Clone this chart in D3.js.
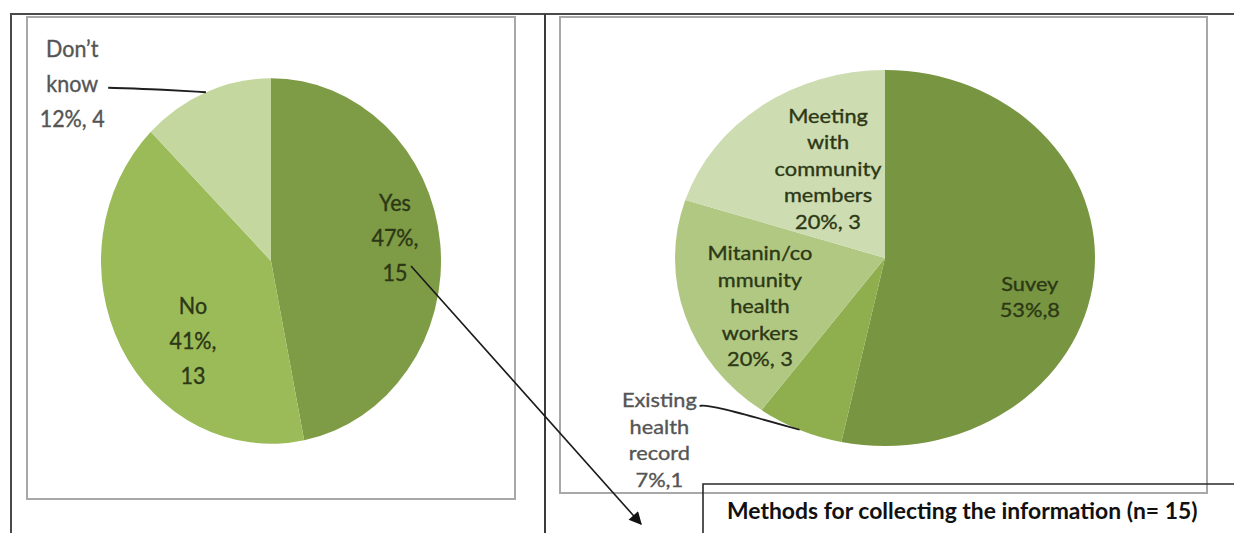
<!DOCTYPE html>
<html>
<head>
<meta charset="utf-8">
<script src="https://cdn.jsdelivr.net/npm/d3@7"></script>
<style>
  html, body { margin: 0; padding: 0; background: #fff; }
  svg { display: block; }
</style>
</head>
<body>
<svg id="chart" width="1234" height="533"></svg>
<script>
// Left pie: is information collected? (n = 32)
const awarenessCats = ["Yes", "No", "Don’t know"];
const awarenessVals = [15, 13, 4];
const awarenessPct = [47, 41, 12];
const awarenessNameLines = [["Yes"], ["No"], ["Don’t", "know"]];

// Right pie: methods for collecting the information (n = 15)
const methodCats = ["Suvey", "Existing health record", "Mitanin/community health workers", "Meeting with community members"];
const methodVals = [8, 1, 3, 3];
const methodPct = [53, 7, 20, 20];
const methodNameLines = [["Suvey"], ["Existing", "health", "record"], ["Mitanin/co", "mmunity", "health", "workers"], ["Meeting", "with", "community", "members"]];

const titleText = "Methods for collecting the information (n= 15)";

const FONT = "Lato, 'Open Sans', sans-serif";
const svg = d3.select("#chart");

// ---- frame lines -------------------------------------------------------
const frame = svg.append("g").attr("fill", "none");
frame.append("line").attr("x1", 10).attr("x2", 1234).attr("y1", 14).attr("y2", 14)
  .attr("stroke", "#4a4a4a").attr("stroke-width", 2);
frame.append("line").attr("x1", 11).attr("x2", 11).attr("y1", 14).attr("y2", 533)
  .attr("stroke", "#4a4a4a").attr("stroke-width", 2);
frame.append("line").attr("x1", 545).attr("x2", 545).attr("y1", 14).attr("y2", 533)
  .attr("stroke", "#3a3a3a").attr("stroke-width", 2);
frame.append("rect").attr("x", 27).attr("y", 17).attr("width", 488).attr("height", 482)
  .attr("stroke", "#a8a8a8").attr("stroke-width", 2);
frame.append("rect").attr("x", 560).attr("y", 17).attr("width", 647).attr("height", 476)
  .attr("stroke", "#a8a8a8").attr("stroke-width", 2);

// ---- pie builder -------------------------------------------------------
function drawPie(opts) {
  const { cats, vals, pct, nameLines, colors, cx, cy, r, sx, sy, fontSize, lineH,
          labelPos, pctSep, outside, insideColor, outsideColor } = opts;

  const g = svg.append("g")
    .attr("transform", `translate(${cx},${cy}) scale(${sx},${sy})`);

  const pie = d3.pie().sort(null).value(d => d.v).startAngle(0).endAngle(2 * Math.PI);
  const arcs = pie(cats.map((c, i) => ({ c, v: vals[i], i })));
  const arc = d3.arc().innerRadius(0).outerRadius(r);
  const color = d3.scaleOrdinal().domain(cats).range(colors);

  g.selectAll("path.slice").data(arcs).join("path")
    .attr("class", "slice")
    .attr("d", arc)
    .attr("fill", d => color(d.data.c));

  const polar = (deg, f) => {
    const a = deg * Math.PI / 180;
    return [f * r * Math.sin(a), -f * r * Math.cos(a)];
  };

  arcs.forEach((d, i) => {
    const lp = labelPos[i];
    const [lx, ly] = polar(lp.angle, lp.f);
    const lines = nameLines[i].concat([`${pct[i]}%,${pctSep[i]}${vals[i]}`]);
    if (lp.split) { // percentage and count on separate lines
      lines.pop();
      lines.push(`${pct[i]}%,`, `${vals[i]}`);
    }
    const isOut = outside.includes(i);
    const fill = isOut ? outsideColor : insideColor;
    const t = g.append("text")
      .attr("font-family", FONT)
      .attr("font-size", fontSize)
      .attr("fill", fill)
      .attr("stroke", fill)
      .attr("stroke-width", 0.35)
      .attr("text-anchor", "middle");
    lines.forEach((ln, k) => {
      t.append("tspan")
        .attr("x", lx)
        .attr("y", ly + (k - (lines.length - 1) / 2) * lineH)
        .attr("dy", "0.36em")
        .text(ln);
    });
    if (isOut) {
      const mid = (d.startAngle + d.endAngle) / 2 * 180 / Math.PI;
      const [ex, ey] = polar(mid, 1);
      const sx0 = lx + lp.lead[0], sy0 = ly + lp.lead[1];
      const pts = [[sx0, sy0], [sx0 + lp.bend[0], sy0 + lp.bend[1]], [ex, ey]];
      g.append("path")
        .attr("d", d3.line().curve(d3.curveBasis)(pts))
        .attr("fill", "none")
        .attr("stroke", "#1e1e1e")
        .attr("stroke-width", 2 / Math.max(sx, sy));
    }
  });
  return g;
}

// Left pie
drawPie({
  cats: awarenessCats, vals: awarenessVals, pct: awarenessPct, nameLines: awarenessNameLines,
  colors: ["#7e9b45", "#9bbb59", "#c4d79f"],
  cx: 271, cy: 261, r: 170, sx: 1, sy: 1.075,
  fontSize: 21.5, lineH: 32.6,
  labelPos: [
    { angle: 80.2, f: 0.74, split: true },
    { angle: 226.4, f: 0.634, split: true },
    { angle: 309.7, f: 1.52, lead: [36, 4], bend: [40, 1] }
  ],
  pctSep: ["", "", " "],
  outside: [2],
  insideColor: "#2c3815", outsideColor: "#555555"
});

// Right pie
drawPie({
  cats: methodCats, vals: methodVals, pct: methodPct, nameLines: methodNameLines,
  colors: ["#789541", "#8fae4d", "#b1c883", "#cddcb1"],
  cx: 885, cy: 258, r: 188, sx: 1.117, sy: 1,
  fontSize: 19.5, lineH: 26.5,
  labelPos: [
    { angle: 106.7, f: 0.72 },
    { angle: 228, f: 1.446, lead: [36, -34], bend: [10, -1] },
    { angle: 246.8, f: 0.648 },
    { angle: 330.2, f: 0.546 }
  ],
  pctSep: ["", "", " ", " "],
  outside: [1],
  insideColor: "#2c3815", outsideColor: "#555555"
});

// ---- arrow linking "Yes" to the methods chart ---------------------------
svg.append("defs").append("marker")
  .attr("id", "arrowHead")
  .attr("viewBox", "0 0 10 10")
  .attr("refX", 9).attr("refY", 5)
  .attr("markerWidth", 9).attr("markerHeight", 8)
  .attr("markerUnits", "strokeWidth")
  .attr("orient", "auto")
  .append("path").attr("d", "M0,0 L10,5 L0,10 z").attr("fill", "#111");

svg.append("line")
  .attr("x1", 411).attr("y1", 266).attr("x2", 641).attr("y2", 524)
  .attr("stroke", "#1a1a1a").attr("stroke-width", 1.6)
  .attr("marker-end", "url(#arrowHead)");

// ---- title box ---------------------------------------------------------
svg.append("path")
  .attr("d", "M703,540 V484 H1240")
  .attr("fill", "none").attr("stroke", "#2a2a2a").attr("stroke-width", 1.6);

const title = svg.append("text")
  .attr("x", 727).attr("y", 519)
  .attr("font-family", FONT)
  .attr("font-weight", 700)
  .attr("font-size", 20)
  .attr("fill", "#111")
  .text(titleText);
// fit the title to the box width
const tw = title.node().getComputedTextLength();
title.attr("font-size", 20 * 471 / tw);
</script>
</body>
</html>
